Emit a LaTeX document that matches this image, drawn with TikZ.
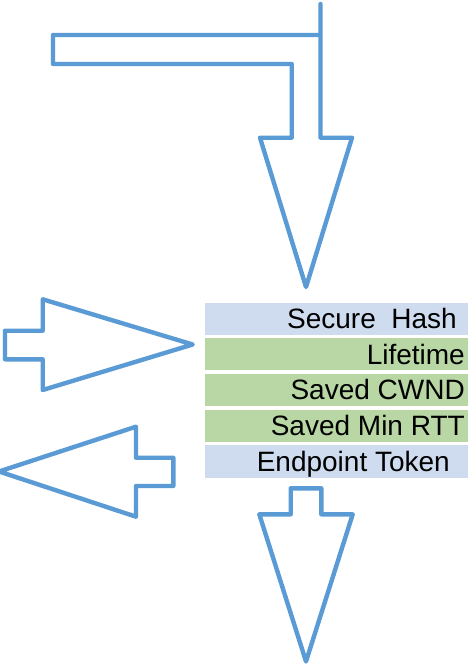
\documentclass[tikz,border=0pt]{standalone}
\usepackage{fontspec}
\setmainfont{Liberation Sans}
\definecolor{arrowblue}{HTML}{5B9BD5}
\definecolor{rowblue}{HTML}{CFDBEE}
\definecolor{rowgreen}{HTML}{B8D7A4}
\begin{document}
\begin{tikzpicture}[x=1pt,y=-1pt,
  outline/.style={draw=arrowblue,line width=4.4pt,line join=round,line cap=round},
  rowbox/.style={draw=none,minimum width=263.3pt,minimum height=32.4pt,inner sep=0pt,anchor=north west},
  rowtext/.style={anchor=base east,inner sep=0pt,font=\fontsize{28}{31}\selectfont}]
\useasboundingbox (0,0) rectangle (468,664);
\fill[white] (0,0) rectangle (468,664);
% top bent arrow
\draw[outline] (320.5,4) -- (320.5,137.7) -- (352,137.7) -- (306,287) -- (260,137.7)
  -- (291.7,137.7) -- (291.7,64) -- (53,64) -- (53,35) -- (320.5,35);
% right-pointing arrow
\draw[outline] (5,330.7) -- (42.7,330.7) -- (42.7,299.3) -- (192.7,344.5) -- (42.7,390)
  -- (42.7,359.3) -- (5,359.3) -- cycle;
% left-pointing arrow
\draw[outline] (173.3,457.7) -- (136,457.7) -- (136,426.7) -- (-1,471.5) -- (136,516.7)
  -- (136,486) -- (173.3,486) -- cycle;
% bottom arrow
\draw[outline] (290.7,488.3) -- (321.3,488.3) -- (321.3,514.3) -- (352.7,514.3) -- (306,661.5)
  -- (259.3,514.3) -- (290.7,514.3) -- cycle;
% rows
\node[rowbox,fill=rowblue] (r1) at (204.7,302.3) {};
\node[rowbox,fill=rowgreen] (r2) at (204.7,337.7) {};
\node[rowbox,fill=rowgreen] (r3) at (204.7,373.3) {};
\node[rowbox,fill=rowgreen] (r4) at (204.7,409.3) {};
\node[rowbox,fill=rowblue] (r5) at (204.7,445.0) {};
\node[rowtext] (t1) at (457,328.5) {Secure\ \ Hash};
\node[rowtext] (t2) at (465,364.0) {Lifetime};
\node[rowtext] (t3) at (465,399.6) {Saved CWND};
\node[rowtext] (t4) at (465,435.6) {Saved Min RTT};
\node[rowtext] (t5) at (450,471.3) {Endpoint Token};
\end{tikzpicture}
\end{document}
